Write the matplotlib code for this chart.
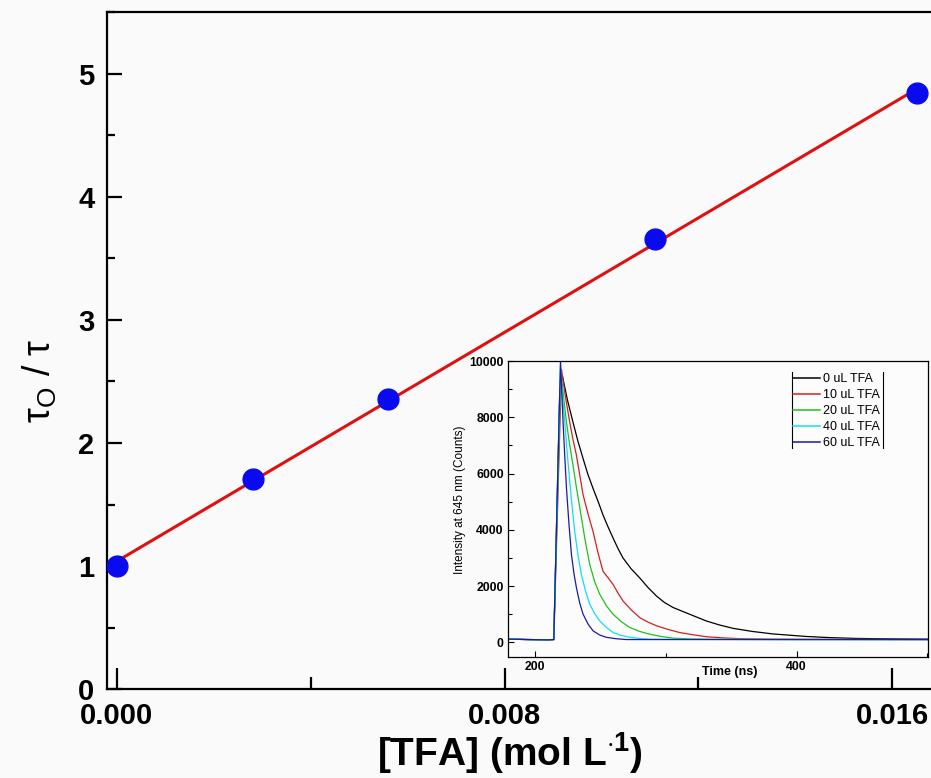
import numpy as np
import matplotlib
matplotlib.use("Agg")
import matplotlib.pyplot as plt
from matplotlib.ticker import MultipleLocator, FixedLocator

plt.rcParams['font.family'] = ['Liberation Sans', 'DejaVu Sans']
plt.rcParams['mathtext.fontset'] = 'custom'
plt.rcParams['mathtext.rm'] = 'Liberation Sans'
plt.rcParams['mathtext.bf'] = 'Liberation Sans:bold'

# Stern-Volmer data (main plot)
tfa_conc = [0.0, 0.00281, 0.00559, 0.01111, 0.01651]
tau_ratio = [1.00, 1.71, 2.36, 3.66, 4.84]

# decay curves for the inset (time in ns, counts)
t_0ul = [180, 195, 210, 214.5, 219.0, 221.1, 225, 229.2, 233, 236.9, 240.5, 244.5, 248.5,
         252.1, 256, 259.8, 263.5, 267.4, 273.5, 280.2, 286.5, 292.9, 299, 305.6, 318.3,
         331.1, 341, 351.4, 366, 381.9, 407.4, 425, 445.5, 470, 500]
c_0ul = [115, 100, 90, 100, 8800, 9470, 8600, 7820, 7140, 6530, 5980, 5470, 4990,
         4530, 4100, 3710, 3340, 3000, 2620, 2290, 1950, 1650, 1420, 1240, 1000,
         760, 620, 500, 390, 300, 210, 170, 140, 125, 115]

t_10ul = [180, 195, 210, 214.5, 220.4, 223.5, 226.7, 229.2, 231.8, 234.4, 236.9, 240.7,
          244.5, 248.3, 252.1, 255.9, 259.8, 263.6, 267.4, 273.8, 280.2, 286.5, 292.9,
          301.8, 310.7, 320.9, 331.1, 343.8, 356.5, 378, 400, 450, 500]
c_10ul = [115, 100, 90, 100, 9700, 8700, 7820, 7200, 6650, 5930, 5240, 4560,
          3940, 3180, 2530, 2300, 2060, 1750, 1470, 1150, 880, 720, 590,
          460, 350, 270, 200, 160, 130, 115, 110, 105, 100]

t_20ul = [180, 195, 210, 214.5, 219.9, 222, 224.2, 226.7, 229.2, 231.8, 234.4, 238.2,
          242.0, 245.8, 249.6, 254.7, 259.8, 266, 272.5, 280, 287.8, 296.5, 305.6,
          318, 331.1, 360, 400, 500]
c_20ul = [115, 100, 90, 100, 9700, 8700, 7820, 7000, 6290, 5500, 4770, 3700,
          2760, 2150, 1710, 1300, 1000, 740, 530, 390, 290, 210, 150,
          125, 110, 105, 100, 100]

t_40ul = [180, 195, 210, 214.5, 219.6, 221.2, 222.9, 224.8, 226.7, 228.6, 230.5, 233,
          235.6, 238.8, 242.0, 245.8, 249.6, 254.7, 259.8, 266, 272.5, 281, 290, 400, 500]
c_40ul = [115, 100, 90, 100, 9820, 8800, 7820, 6700, 5710, 4780, 3940, 3100,
          2410, 1820, 1350, 1020, 760, 530, 350, 250, 180, 135, 110, 100, 100]

t_60ul = [180, 195, 210, 214.5, 219.6, 220.6, 221.6, 222.9, 224.2, 226.1, 228.0, 229.9,
          231.8, 234.3, 236.9, 240.7, 244.5, 249.6, 254.7, 262, 270, 400, 500]
c_60ul = [115, 100, 90, 100, 10000, 8900, 7820, 6600, 5470, 4200, 3120, 2450,
          1940, 1400, 1000, 650, 410, 260, 180, 130, 100, 100, 100]

decay_labels = ["0 uL TFA", "10 uL TFA", "20 uL TFA", "40 uL TFA", "60 uL TFA"]
decay_colors = ["black", "#d42020", "#20c020", "#10e0f0", "#1a1aa8"]


def main():
    fig = plt.figure(figsize=(9.31, 7.78), dpi=100)
    fig.patch.set_facecolor("#fafafa")

    # main axes, right edge runs off the picture like the reference
    ax = fig.add_axes([107 / 931, 1 - 689.3 / 778, (940 - 107) / 931, (689.3 - 12) / 778])
    ax.set_facecolor("#fafafa")

    slope, intercept = np.polyfit(tfa_conc, tau_ratio, 1)
    xfit = np.array([0.0, max(tfa_conc)])
    ax.plot(xfit, slope * xfit + intercept, color="#e01010", lw=2.2, zorder=2)
    ax.plot(tfa_conc, tau_ratio, "o", color="#0a0af0", ms=15, zorder=3)

    ax.set_xlim(-0.000206, 0.0168 + 9 / 48437)
    ax.set_ylim(0, 5.5)
    ax.xaxis.set_major_locator(FixedLocator([0.0, 0.008, 0.016]))
    ax.xaxis.set_minor_locator(FixedLocator([0.004, 0.012]))
    ax.yaxis.set_major_locator(MultipleLocator(1))
    ax.yaxis.set_minor_locator(MultipleLocator(0.5))
    ax.set_xticklabels(["0.000", "0.008", "0.016"])

    for s in ["top", "left", "bottom"]:
        ax.spines[s].set_linewidth(1.6)
    ax.spines["right"].set_visible(False)
    ax.tick_params(which="both", direction="in", top=False, right=False, width=1.6)
    ax.tick_params(axis="x", which="major", length=15, pad=9)
    ax.tick_params(axis="x", which="minor", length=9)
    ax.tick_params(axis="y", which="major", length=11, pad=9)
    ax.tick_params(axis="y", which="minor", length=6)
    for lab in ax.get_xticklabels() + ax.get_yticklabels():
        lab.set_fontweight("bold")
        lab.set_fontsize(21)

    ax.set_xlabel(r"[TFA] (mol $\mathbf{L^{\cdot 1}}$)", fontsize=28, fontweight="bold")
    ax.xaxis.set_label_coords((510 - 107) / (940 - 107), -0.094)
    ax.xaxis.label.set_va("center")
    ax.set_ylabel("τ$_{\\mathregular{O}}$ / τ", fontsize=27)
    ax.yaxis.set_label_coords(-0.081, 0.455)
    ax.yaxis.label.set_va("center")

    # inset with the decay curves
    ins = fig.add_axes([508 / 931, 1 - 657 / 778, (928 - 508) / 931, (657 - 361) / 778])
    ins.set_facecolor("#fcfcfc")
    curves = [(t_0ul, c_0ul), (t_10ul, c_10ul), (t_20ul, c_20ul), (t_40ul, c_40ul), (t_60ul, c_60ul)]
    for (t, c), lab, col in zip(curves, decay_labels, decay_colors):
        ins.plot(t, c, color=col, lw=0.9, label=lab)

    ins.set_xlim(179.5, 500.5)
    ins.set_ylim(-520, 10000)
    ins.xaxis.set_major_locator(MultipleLocator(200))
    ins.xaxis.set_minor_locator(MultipleLocator(100))
    ins.yaxis.set_major_locator(MultipleLocator(2000))
    ins.yaxis.set_minor_locator(MultipleLocator(1000))
    ins.tick_params(which="both", direction="in", top=False, right=False, width=0.8)
    ins.tick_params(which="major", length=4, pad=3)
    ins.tick_params(which="minor", length=3)
    for s in ins.spines.values():
        s.set_linewidth(0.9)
    for lab in ins.get_xticklabels() + ins.get_yticklabels():
        lab.set_fontweight("bold")
        lab.set_fontsize(8.8)

    ins.set_xlabel("Time (ns)", fontsize=9, fontweight="bold")
    ins.xaxis.set_label_coords(0.527, -0.05)
    ins.xaxis.label.set_va("center")
    ins.set_ylabel("Intensity at 645 nm (Counts)", fontsize=8.5)
    ins.yaxis.set_label_coords(-0.115, 0.53)
    ins.yaxis.label.set_va("center")

    leg = ins.legend(loc="upper left", bbox_to_anchor=(0.672, 0.968), frameon=False,
                     fontsize=9, handlelength=2.2, handletextpad=0.25,
                     labelspacing=0.33, borderpad=0.2, borderaxespad=0)
    for h in leg.get_lines():
        h.set_linewidth(1.1)
    # Origin-style legend box: only the two side bars
    ins.plot([0.676, 0.676], [0.706, 0.963], color="black", lw=0.8, transform=ins.transAxes)
    ins.plot([0.893, 0.893], [0.706, 0.963], color="black", lw=0.8, transform=ins.transAxes)

    plt.savefig("out.png", dpi=100, facecolor=fig.get_facecolor())
    plt.close()


if __name__ == "__main__":
    main()
